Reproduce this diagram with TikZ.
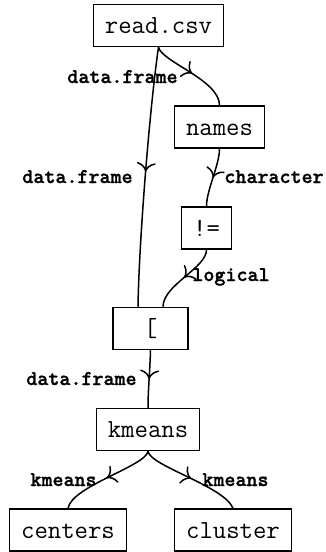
\documentclass[tikz,border=0pt]{standalone}
\usepackage{fontspec}
\newfontfamily\labfont{lmmonolt10-bold.otf}[FakeBold=1.2]
\usetikzlibrary{arrows.meta,decorations.markings,calc}
\tikzset{
  fn/.style={draw, line width=0.75pt, font=\fontsize{13}{15}\selectfont\ttfamily,
    inner xsep=5.7pt, inner ysep=0pt, minimum height=21pt, text height=8pt, text depth=0pt},
  ed/.style={line width=0.75pt,
    decoration={markings, mark=at position #1 with {\arrow[line width=0.75pt]{Computer Modern Rightarrow[width=9.5pt,length=4.5pt]}}},
    postaction={decorate}},
  ed/.default=0.5,
  lab/.style={font=\fontsize{10.5}{12}\selectfont\labfont, inner sep=0pt}
}
\begin{document}
\begin{tikzpicture}[x=0.5pt,y=-0.5pt]
\useasboundingbox (0,0) rectangle (326,552);
\node[fn] (r) at (158.5,25.5) {read.csv};
\node[fn] (n) at (219.5,127) {names};
\node[fn] (ne) at (206.5,228) {!=};
\node[fn, minimum width=37.5pt] (b) at (150.5,328.5) {[};
\node[fn] (k) at (148,429.5) {kmeans};
\node[fn] (ce) at (68,530) {centers};
\node[fn] (cl) at (233,530) {cluster};

\draw[ed=0.48] (r.south) .. controls (150,105) and (139,240) .. ($(b.north)+(-12.5,0)$);
\draw[ed] (r.south) .. controls (162,62) and (219.5,80) .. (n.north);
\draw[ed] (n.south) .. controls (219.5,165) and (206.5,190) .. (ne.north);
\draw[ed] (ne.south) .. controls (206.5,268) and (163,285) .. ($(b.north)+(12.5,0)$);
\draw[ed] (b.south) .. controls (150,370) and (148,390) .. (k.north);
\draw[ed] (k.south) .. controls (146,466) and (72,486) .. (ce.north);
\draw[ed] (k.south) .. controls (150,466) and (224,486) .. (cl.north);

\node[lab, anchor=base east] (l1) at (178,83) {data.frame};
\node[lab, anchor=base east] (l2) at (133,183) {data.frame};
\node[lab, anchor=base west] (l3) at (224,183) {character};
\node[lab, anchor=base west] (l4) at (192,281) {logical};
\node[lab, anchor=base east] (l5) at (137,385) {data.frame};
\node[lab, anchor=base east] (l6) at (97,486) {kmeans};
\node[lab, anchor=base west] (l7) at (202,486) {kmeans};
\end{tikzpicture}
\end{document}
